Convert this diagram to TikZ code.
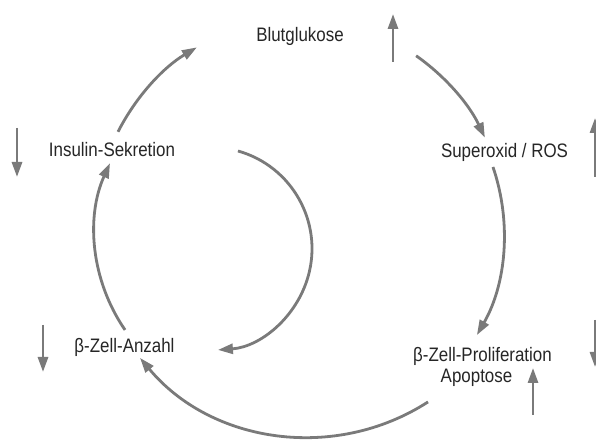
\documentclass[tikz,border=0pt]{standalone}
\usepackage{fontspec}
\newfontfamily\condfont[FakeStretch=0.868]{Liberation Sans}
\usetikzlibrary{arrows.meta,calc}
\definecolor{arrowgray}{HTML}{7A7A7A}
\definecolor{textgray}{HTML}{262626}
\begin{document}
\begin{tikzpicture}[x=1pt,y=1pt,
  lbl/.style={inner sep=0pt, anchor=base, text=textgray, font=\condfont\fontsize{19.5}{23}\selectfont},
  conn/.style={draw=arrowgray, line width=2.8pt, -{Triangle[length=15pt,width=10pt]}},
]
\useasboundingbox (0,0) rectangle (596,441);
\fill[white] (0,0) rectangle (596,441);

% labels
\node[lbl] (blut) at (300,399) {Blutglukose};
\node[lbl] (insulin) at (112,284) {Insulin-Sekretion};
\node[lbl] (ros) at (504.5,283) {Superoxid / ROS};
\node[lbl] (anzahl) at (124.5,88) {β-Zell-Anzahl};
\node[lbl] (prolif) at (482.5,79) {β-Zell-Proliferation};
\node[lbl] (apo) at (476.5,58) {Apoptose};

% arc centres
\coordinate (E) at (300,213);
\coordinate (C3) at (299.2,207.7);
\coordinate (C4) at (308.9,223.9);
\coordinate (C5) at (265.3,207.8);
\coordinate (C6) at (210.5,192.3);

% cycle arcs
\coordinate (a1) at ($(E)+(152.6:205 and 209)$);
\draw[conn] (a1) arc[start angle=152.6, end angle=120.2, x radius=205, y radius=209];
\coordinate (a2) at ($(E)+(55.5:205 and 209)$);
\draw[conn] (a2) arc[start angle=55.5, end angle=25.6, x radius=205, y radius=209];
\coordinate (a3) at ($(C3)+(18.9:204.8)$);
\draw[conn] (a3) arc[start angle=18.9, end angle=-29.8, radius=204.8];
\coordinate (a4) at ($(C4)+(-57.2:219.9)$);
\draw[conn] (a4) arc[start angle=-57.2, end angle=-140.2, radius=219.9];
\coordinate (a5) at ($(C5)+(214.6:170.4)$);
\draw[conn] (a5) arc[start angle=214.6, end angle=155.7, radius=170.4];
\coordinate (a6) at ($(C6)+(74.3:101.5)$);
\draw[conn] (a6) arc[start angle=74.3, end angle=-85.8, radius=101.5];

% trend arrows
\coordinate (t1a) at (393,379); \coordinate (t1b) at (393,427);
\draw[conn] (t1a) -- (t1b);
\coordinate (t2a) at (17,313); \coordinate (t2b) at (17,264);
\draw[conn] (t2a) -- (t2b);
\coordinate (t3a) at (43,116); \coordinate (t3b) at (43,69);
\draw[conn] (t3a) -- (t3b);
\coordinate (t4a) at (533,26); \coordinate (t4b) at (533,73);
\draw[conn] (t4a) -- (t4b);
\coordinate (t5a) at (595,264); \coordinate (t5b) at (595,323);
\draw[conn] (t5a) -- (t5b);
\coordinate (t6a) at (595,121); \coordinate (t6b) at (595,74);
\draw[conn] (t6a) -- (t6b);
\end{tikzpicture}
\end{document}
